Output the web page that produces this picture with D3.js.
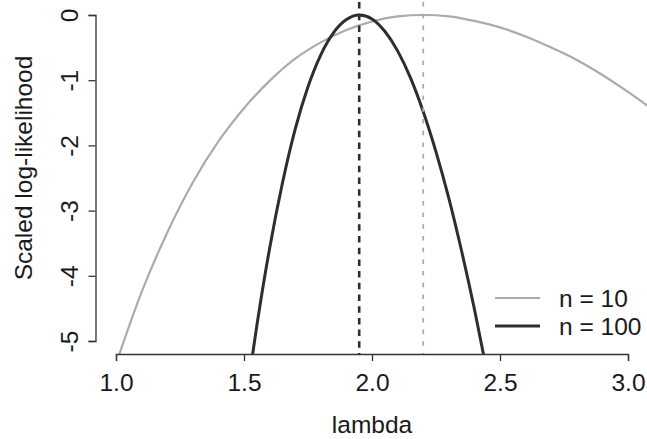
<!DOCTYPE html>
<html>
<head>
<meta charset="utf-8">
<script src="https://cdn.jsdelivr.net/npm/d3@7"></script>
<style>
  body { margin: 0; background: #fff; }
  text { font-family: "Liberation Sans", Arial, sans-serif; fill: #1a1a1a; }
</style>
</head>
<body>
<script>
// values
var lambda10 = [1.0, 1.1, 1.2, 1.3, 1.4, 1.5, 1.6, 1.7, 1.8, 1.9, 2.0, 2.1, 2.2, 2.3, 2.4, 2.5, 2.6, 2.7, 2.8, 2.9, 3.0, 3.1];
var loglik10 = [-5.35, -4.25, -3.34, -2.57, -1.94, -1.43, -1.01, -0.67, -0.42, -0.23, -0.10, -0.02, 0, -0.02, -0.09, -0.19, -0.33, -0.50, -0.69, -0.92, -1.18, -1.46];

var lambda100 = [1.5, 1.55, 1.6, 1.65, 1.7, 1.75, 1.8, 1.85, 1.9, 1.95, 2.0, 2.05, 2.1, 2.15, 2.2, 2.25, 2.3, 2.35, 2.4, 2.45];
var loglik100 = [-6.16, -4.77, -3.58, -2.58, -1.75, -1.10, -0.61, -0.27, -0.07, 0, -0.06, -0.25, -0.55, -0.96, -1.48, -2.10, -2.81, -3.62, -4.51, -5.49];

var mleValues = [1.95, 2.2];
var xTicks = [1.0, 1.5, 2.0, 2.5, 3.0];
var yTicks = [0, -1, -2, -3, -4, -5];
var legendLabels = ["n = 10", "n = 100"];

var gray = "#ababab", dark = "#2e2e2e";
var fontSize = "24.5px";

// plot region (R style, 4% padding around the data range)
var width = 647, height = 439;
var plot = {left: 95.5, right: 648.5, top: 2, bottom: 354};

var svg = d3.select("body")
  .append("svg")
    .attr("width", width)
    .attr("height", height);

var x = d3.scaleLinear()
  .domain([1, 3])
  .range([116, 628]);

var y = d3.scaleLinear()
  .domain([-5, 0])
  .range([341, 15]);

svg.append("clipPath")
    .attr("id", "plotclip")
  .append("rect")
    .attr("x", plot.left)
    .attr("y", plot.top)
    .attr("width", plot.right - plot.left)
    .attr("height", plot.bottom - plot.top);

var inner = svg.append("g").attr("clip-path", "url(#plotclip)");

var line = d3.line()
  .x(function(d) { return x(d[0]); })
  .y(function(d) { return y(d[1]); })
  .curve(d3.curveMonotoneX);

// n = 10 curve
inner.append("path")
  .datum(d3.zip(lambda10, loglik10))
  .attr("d", line)
  .attr("fill", "none")
  .attr("stroke", gray)
  .attr("stroke-width", 2.2);

// n = 100 curve
inner.append("path")
  .datum(d3.zip(lambda100, loglik100))
  .attr("d", line)
  .attr("fill", "none")
  .attr("stroke", dark)
  .attr("stroke-width", 3);

// MLE lines
inner.selectAll("line.mle")
  .data(mleValues)
  .enter()
  .append("line")
    .attr("class", "mle")
    .attr("x1", function(d) { return x(d); })
    .attr("x2", function(d) { return x(d); })
    .attr("y1", plot.top)
    .attr("y2", plot.bottom)
    .attr("stroke", function(d, i) { return i == 0 ? dark : gray; })
    .attr("stroke-width", function(d, i) { return i == 0 ? 2.6 : 1.8; })
    .attr("stroke-dasharray", function(d, i) { return i == 0 ? "6.5,5.2" : "4.5,7.2"; });

// X axis
var xAxis = svg.append("g")
  .attr("transform", "translate(0," + plot.bottom + ")")
  .call(d3.axisBottom(x).tickValues(xTicks).tickFormat(d3.format(".1f")).tickSizeOuter(0).tickSize(7));
xAxis.select(".domain").attr("stroke", "#333").attr("stroke-width", 1.3);
xAxis.selectAll(".tick line").attr("stroke", "#333").attr("stroke-width", 1.3);
xAxis.selectAll(".tick text")
  .attr("y", 0).attr("dy", 0)
  .attr("transform", "translate(0,37)")
  .style("font-size", fontSize)
  .attr("font-family", null);

// Y axis (plain hyphen for negatives, like R)
var yAxis = svg.append("g")
  .attr("transform", "translate(" + plot.left + ",0)")
  .call(d3.axisLeft(y).tickValues(yTicks).tickFormat(function(d) { return String(d); }).tickSizeOuter(0).tickSize(7));
yAxis.select(".domain").attr("stroke", "#333").attr("stroke-width", 1.3);
yAxis.selectAll(".tick line").attr("stroke", "#333").attr("stroke-width", 1.3);
yAxis.selectAll(".tick text")
  .attr("x", 0).attr("dy", 0)
  .attr("text-anchor", "middle")
  .attr("transform", "translate(-18,0) rotate(-90)")
  .style("font-size", fontSize)
  .attr("font-family", null);

// axis titles
svg.append("text")
  .attr("text-anchor", "middle")
  .attr("x", 372)
  .attr("y", 433)
  .style("font-size", fontSize)
  .text("lambda");

svg.append("text")
  .attr("text-anchor", "middle")
  .attr("transform", "translate(32,168) rotate(-90)")
  .style("font-size", fontSize)
  .text("Scaled log-likelihood");

// legend
var legend = svg.append("g").attr("transform", "translate(495,298)");
legend.selectAll("line")
  .data(legendLabels)
  .enter()
  .append("line")
    .attr("x1", 0).attr("x2", 45)
    .attr("y1", function(d, i) { return i * 28; })
    .attr("y2", function(d, i) { return i * 28; })
    .attr("stroke", function(d, i) { return i == 0 ? gray : dark; })
    .attr("stroke-width", function(d, i) { return i == 0 ? 2.2 : 3; });
legend.selectAll("text")
  .data(legendLabels)
  .enter()
  .append("text")
    .attr("x", 64)
    .attr("y", function(d, i) { return i * 28 + 8.5; })
    .style("font-size", fontSize)
    .text(function(d) { return d; });
</script>
</body>
</html>
